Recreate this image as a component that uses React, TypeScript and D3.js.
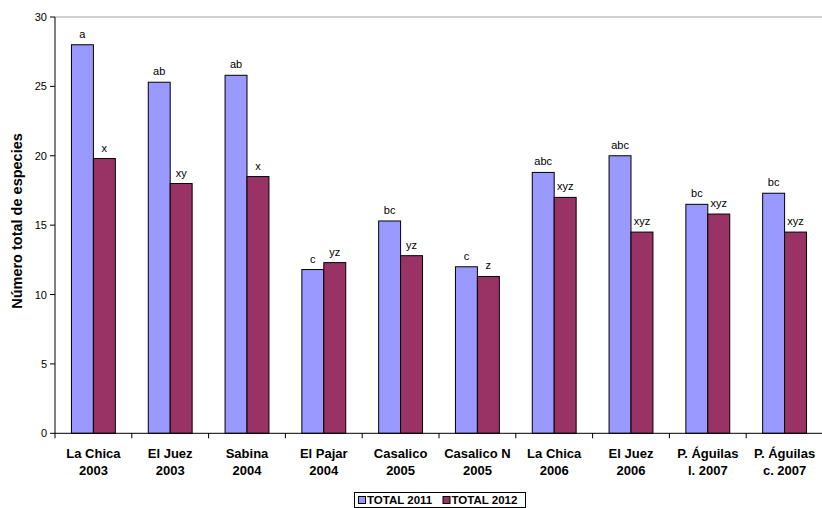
import React from "react";
import * as d3 from "d3";

const categories: string[][] = [
  ["La Chica", "2003"],
  ["El Juez", "2003"],
  ["Sabina", "2004"],
  ["El Pajar", "2004"],
  ["Casalico", "2005"],
  ["Casalico N", "2005"],
  ["La Chica", "2006"],
  ["El Juez", "2006"],
  ["P. Águilas", "l. 2007"],
  ["P. Águilas", "c. 2007"],
];
const total2011: number[] = [28, 25.3, 25.8, 11.8, 15.3, 12.0, 18.8, 20.0, 16.5, 17.3];
const total2012: number[] = [19.8, 18.0, 18.5, 12.3, 12.8, 11.3, 17.0, 14.5, 15.8, 14.5];
const letters2011: string[] = ["a", "ab", "ab", "c", "bc", "c", "abc", "abc", "bc", "bc"];
const letters2012: string[] = ["x", "xy", "x", "yz", "yz", "z", "xyz", "xyz", "xyz", "xyz"];
const yTicks: number[] = [0, 5, 10, 15, 20, 25, 30];
const seriesNames: string[] = ["TOTAL 2011", "TOTAL 2012"];
const seriesColors: string[] = ["#9999FF", "#993366"];

const W = 822;
const H = 508;
const left = 55;
const right = 823;
const top = 17;
const bottom = 433.3;
const font = "'Liberation Sans', Arial, sans-serif";

export default function App() {
  // category bands along the x axis; each holds two bars with a 150% gap
  const x = d3
    .scaleBand<number>()
    .domain(d3.range(categories.length))
    .range([left, right])
    .padding(0);
  const step = x.step();
  const barW = step / 3.5;
  const inner = d3
    .scaleBand<number>()
    .domain([0, 1])
    .range([barW * 0.75, barW * 2.75]);
  const y = d3.scaleLinear().domain([0, 30]).range([bottom, top]);
  const series = [total2011, total2012];
  const letters = [letters2011, letters2012];

  return (
    <svg
      width={W}
      height={H}
      style={{ position: "absolute", left: 0, top: 0, background: "#fff" }}
      fontFamily={font}
    >
      <line x1={left} x2={right} y1={y(30)} y2={y(30)} stroke="#a0a0a0" strokeWidth={1} />
      {series.map((vals, s) =>
        vals.map((v, i) => {
          const bx = (x(i) as number) + (inner(s) as number);
          return (
            <g key={`${s}-${i}`}>
              <rect
                x={bx}
                y={y(v)}
                width={inner.bandwidth()}
                height={bottom - y(v)}
                fill={seriesColors[s]}
                stroke="#000"
                strokeWidth={1}
              />
              <text
                x={bx + inner.bandwidth() / 2}
                y={y(v) - 7}
                textAnchor="middle"
                fontSize={11}
                fill="#000"
              >
                {letters[s][i]}
              </text>
            </g>
          );
        })
      )}
      {/* y axis */}
      <line x1={left} x2={left} y1={top} y2={bottom} stroke="#000" strokeWidth={1} />
      {yTicks.map((t) => (
        <g key={t}>
          <line x1={left - 5} x2={left} y1={y(t)} y2={y(t)} stroke="#000" />
          <text x={left - 8} y={y(t) + 4} textAnchor="end" fontSize={11} fill="#000">
            {t}
          </text>
        </g>
      ))}
      {/* x axis */}
      <line x1={left} x2={right} y1={bottom} y2={bottom} stroke="#000" strokeWidth={1} />
      {d3.range(categories.length + 1).map((i) => (
        <line
          key={i}
          x1={left + i * step}
          x2={left + i * step}
          y1={bottom}
          y2={bottom + 5}
          stroke="#000"
        />
      ))}
      {categories.map((c, i) => {
        const cx = (x(i) as number) + step / 2;
        return (
          <text key={i} textAnchor="middle" fontSize={13} fontWeight="bold" fill="#000">
            <tspan x={cx} y={458}>
              {c[0]}
            </tspan>
            <tspan x={cx} y={475}>
              {c[1]}
            </tspan>
          </text>
        );
      })}
      <text
        transform={`translate(22,221) rotate(-90)`}
        textAnchor="middle"
        fontSize={14.5}
        fontWeight="bold"
        fill="#000"
      >
        Número total de especies
      </text>
      {/* legend */}
      <rect x={354.5} y={492.5} width={171} height={15} fill="#fff" stroke="#000" strokeWidth={1} />
      {seriesNames.map((n, s) => (
        <g key={n} transform={`translate(${358 + s * 84.5},0)`}>
          <rect x={0.5} y={496.5} width={7} height={7} fill={seriesColors[s]} stroke="#000" />
          <text x={9} y={504} fontSize={11.5} fontWeight="bold" fill="#000">
            {n}
          </text>
        </g>
      ))}
    </svg>
  );
}
